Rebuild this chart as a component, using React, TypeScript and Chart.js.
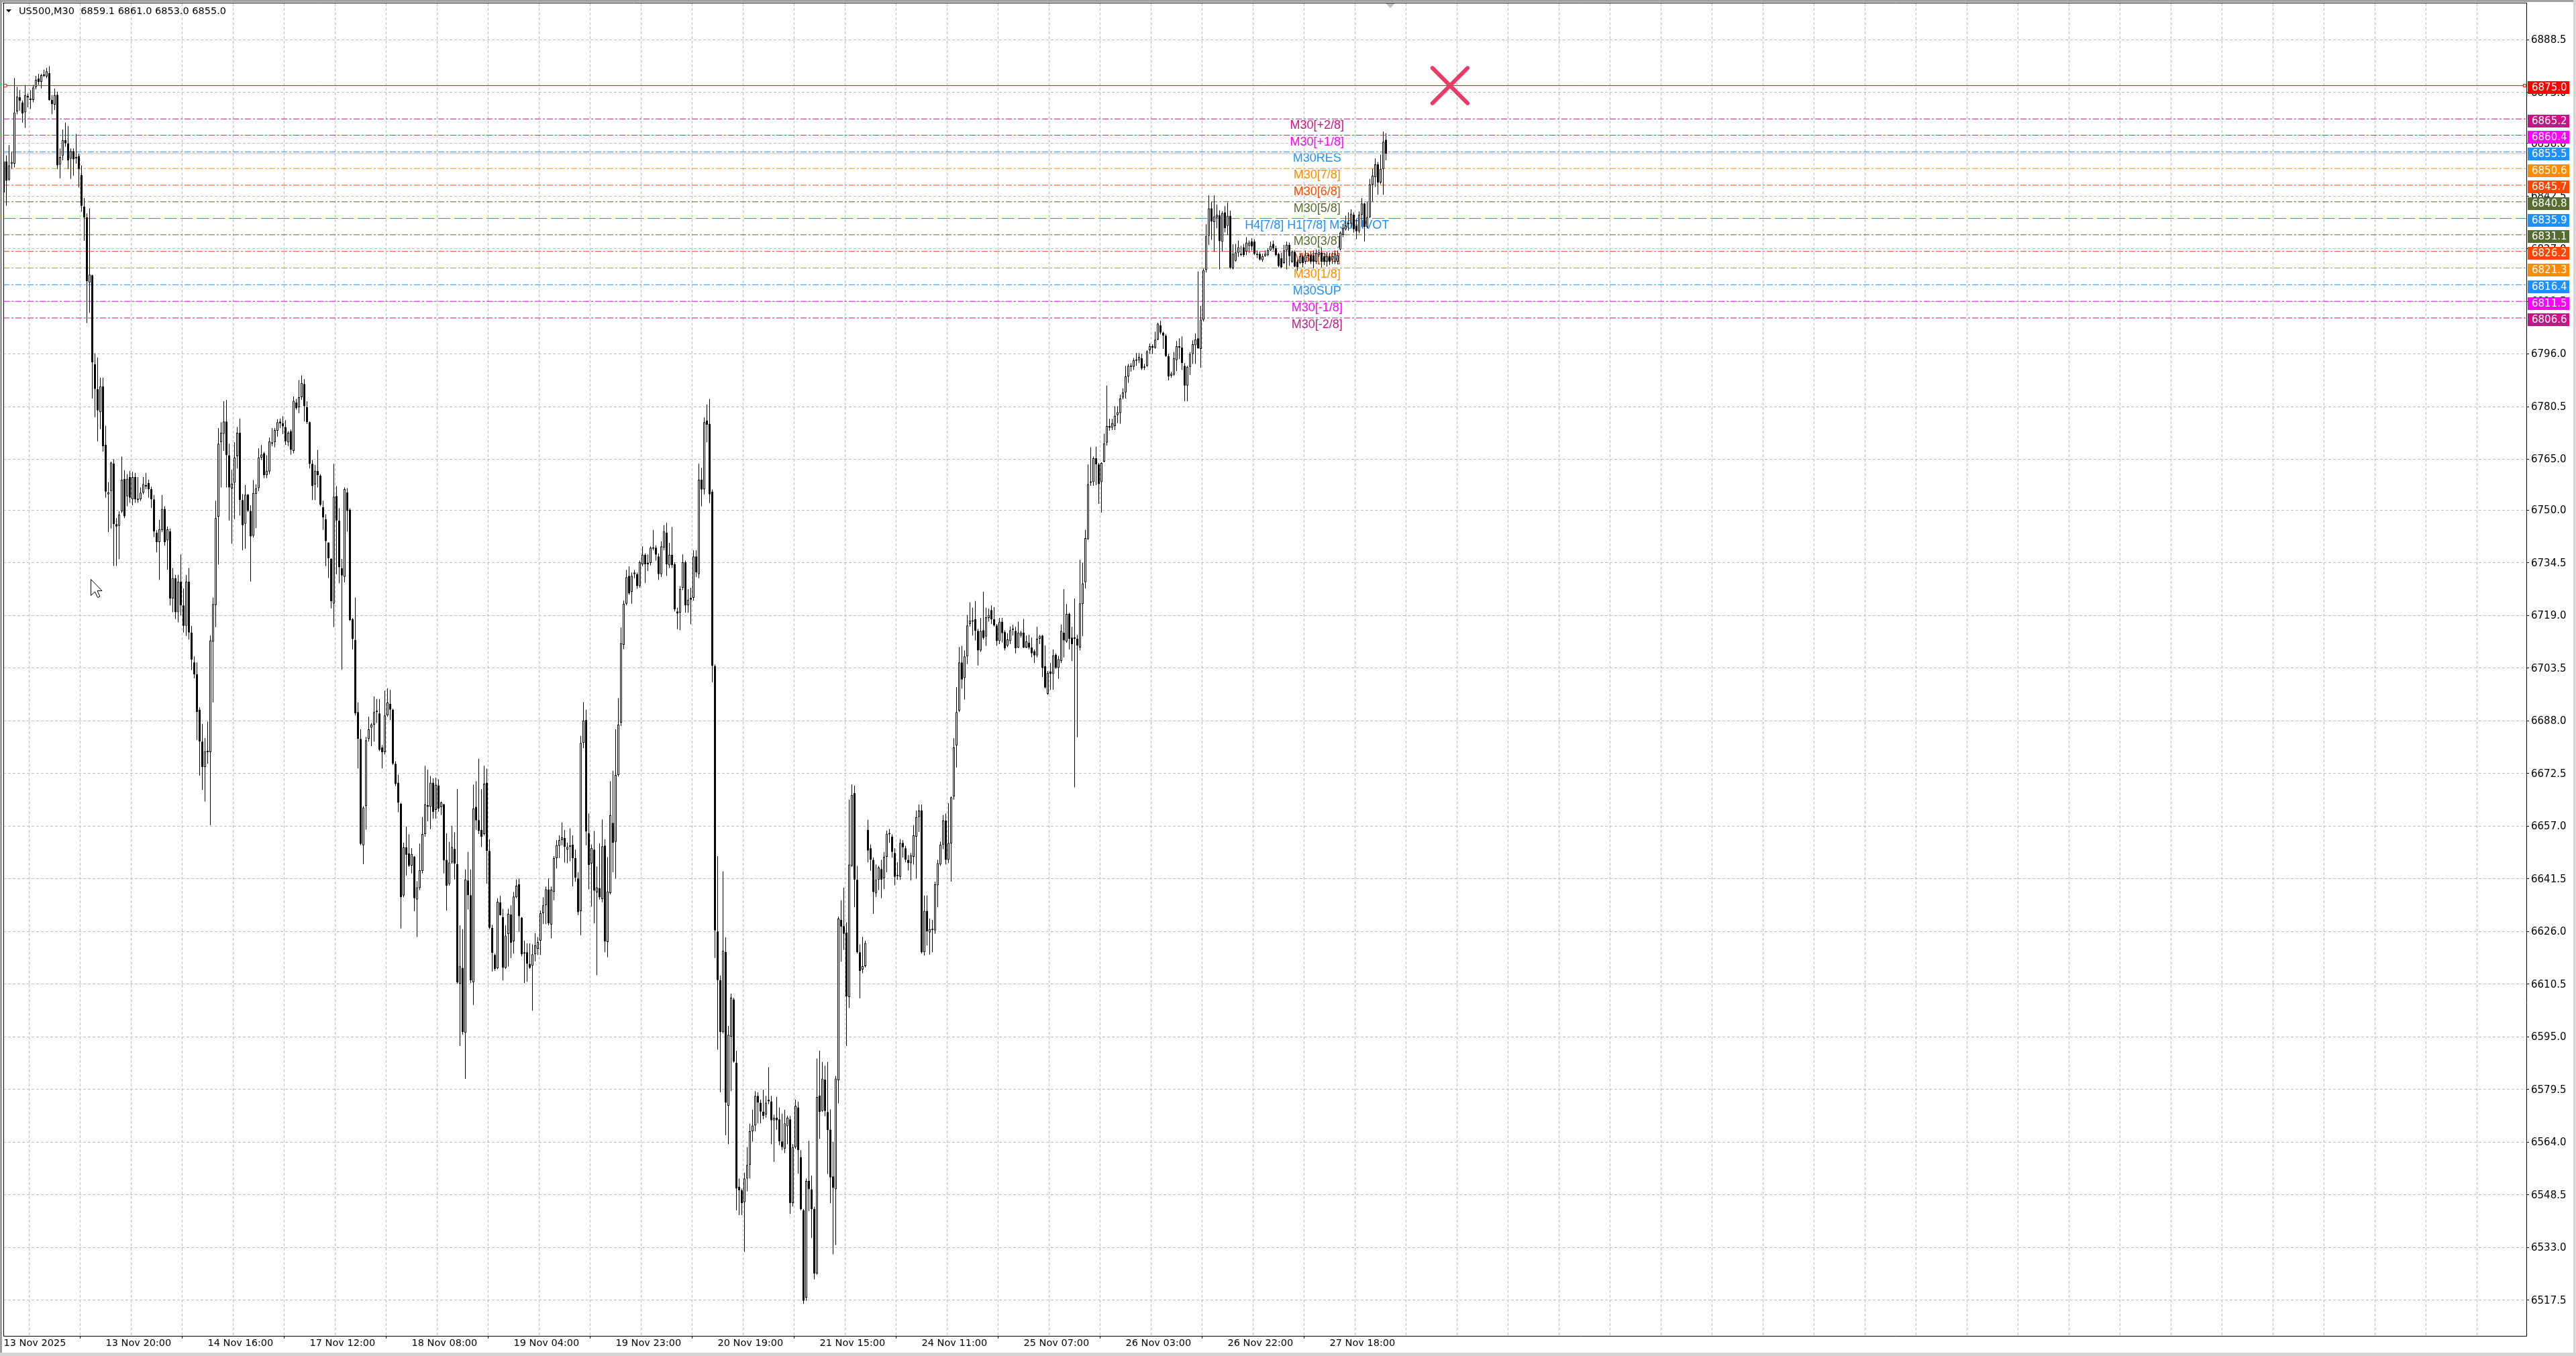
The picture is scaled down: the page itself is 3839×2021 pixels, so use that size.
import React, { useEffect, useRef } from 'react';
import { Chart, registerables } from 'chart.js';

Chart.register(...registerables);

// ---------- data ----------
const symbolTitle = 'US500,M30';
const lastQuote = [6859.1, 6861.0, 6853.0, 6855.0];

// M30 candles, [open, high, low, close]
const ohlc: number[][] = [
  [6843.5,6860.6,6842.4,6852.7],[6852.7,6854.5,6839.6,6847.0],[6847.3,6857.5,6847.0,6851.5],[6851.9,6855.5,6850.5,6852.5],
  [6852.0,6877.2,6851.0,6867.1],[6867.4,6874.7,6866.6,6871.8],[6871.6,6873.7,6867.6,6870.6],[6870.1,6870.6,6864.1,6866.8],
  [6867.1,6875.2,6862.6,6872.2],[6872.0,6872.7,6868.6,6871.5],[6871.1,6873.7,6868.1,6870.8],[6870.8,6875.2,6870.1,6874.5],
  [6874.5,6877.9,6873.9,6876.7],[6877.1,6878.5,6875.2,6876.1],[6876.1,6878.5,6874.2,6878.1],[6878.1,6879.7,6877.5,6877.9],
  [6877.7,6880.2,6877.2,6879.2],[6878.7,6880.7,6870.6,6870.8],[6870.8,6872.2,6866.6,6869.6],[6869.4,6874.2,6867.8,6872.2],
  [6872.3,6873.2,6850.5,6851.5],[6851.7,6856.5,6847.7,6854.0],[6854.3,6862.1,6853.0,6859.0],[6859.0,6864.1,6857.0,6858.0],
  [6858.0,6863.1,6850.5,6853.0],[6853.5,6856.5,6847.5,6855.7],[6855.7,6856.5,6848.5,6853.3],[6853.5,6860.8,6852.0,6854.0],
  [6854.3,6855.0,6845.0,6850.5],[6848.7,6851.5,6837.9,6839.6],[6839.4,6841.9,6829.3,6836.2],[6836.2,6837.4,6805.1,6817.4],
  [6817.0,6838.9,6808.1,6819.4],[6819.2,6819.4,6782.9,6793.5],[6793.0,6796.2,6777.4,6785.7],[6785.7,6795.0,6770.3,6779.4],
  [6778.9,6789.0,6773.9,6786.5],[6786.5,6789.0,6767.3,6768.8],[6769.3,6774.9,6753.7,6755.5],[6754.7,6758.3,6743.6,6755.3],
  [6755.7,6764.3,6744.6,6764.0],[6763.8,6765.0,6733.6,6745.9],[6745.9,6747.7,6733.6,6745.2],[6745.4,6749.7,6735.6,6748.7],
  [6749.7,6765.8,6749.2,6759.0],[6759.2,6761.8,6747.7,6748.2],[6754.1,6760.6,6751.2,6759.3],[6759.8,6761.6,6752.2,6753.7],
  [6753.2,6761.3,6751.5,6759.8],[6759.8,6761.0,6752.2,6753.2],[6753.4,6759.8,6752.2,6753.0],[6753.2,6756.7,6752.7,6755.2],
  [6755.2,6759.8,6754.7,6757.7],[6757.2,6761.0,6756.2,6757.0],[6758.0,6759.0,6753.7,6756.2],[6756.2,6756.9,6750.7,6753.2],
  [6753.2,6754.5,6742.1,6743.8],[6743.4,6744.1,6737.6,6740.6],[6740.6,6747.2,6729.5,6744.4],[6744.1,6754.5,6743.6,6750.4],
  [6750.4,6751.2,6739.6,6740.6],[6741.1,6745.2,6732.5,6744.4],[6743.8,6744.6,6722.0,6724.0],[6724.0,6733.0,6720.0,6730.0],
  [6730.0,6731.0,6718.0,6720.0],[6720.0,6731.0,6717.0,6729.0],[6729.0,6737.0,6719.0,6722.0],[6722.0,6727.0,6714.0,6716.0],
  [6716.0,6731.0,6713.0,6729.0],[6729.0,6733.0,6712.0,6714.0],[6714.0,6716.0,6703.0,6706.0],[6705.2,6707.0,6700.5,6701.7],
  [6701.7,6705.2,6682.3,6690.6],[6691.3,6692.0,6671.9,6681.9],[6681.9,6687.1,6667.7,6674.4],[6674.4,6683.0,6664.3,6679.1],
  [6678.8,6687.8,6675.4,6679.1],[6678.8,6713.1,6657.3,6711.7],[6711.3,6724.3,6693.4,6722.4],[6722.1,6752.8,6715.6,6747.7],
  [6748.1,6774.2,6734.0,6769.6],[6770.0,6775.9,6756.7,6772.8],[6772.5,6782.1,6767.5,6776.1],[6776.1,6782.5,6756.7,6766.2],
  [6766.2,6769.6,6747.0,6756.7],[6756.4,6762.0,6740.1,6757.8],[6758.1,6770.0,6747.4,6765.5],[6765.9,6774.5,6762.3,6772.8],
  [6772.8,6777.0,6748.4,6753.0],[6753.0,6754.8,6738.2,6745.6],[6746.0,6757.4,6738.7,6754.6],[6754.6,6754.8,6749.5,6749.8],
  [6749.8,6751.5,6729.0,6742.3],[6742.5,6758.9,6742.0,6755.1],[6754.8,6757.6,6744.7,6756.5],[6756.5,6768.2,6755.6,6765.5],
  [6765.5,6769.2,6764.8,6766.4],[6766.8,6767.2,6759.5,6760.3],[6760.3,6766.2,6759.5,6761.6],[6761.4,6771.4,6760.6,6770.3],
  [6769.6,6774.2,6768.9,6770.0],[6770.0,6774.2,6768.5,6773.6],[6773.4,6776.8,6771.7,6775.9],[6776.1,6777.0,6774.2,6775.6],
  [6775.6,6777.7,6772.4,6774.7],[6774.5,6776.5,6769.2,6770.3],[6770.0,6773.3,6768.9,6772.8],[6773.3,6773.8,6766.4,6767.8],
  [6767.5,6783.5,6766.8,6782.2],[6781.7,6782.8,6779.6,6780.0],[6780.3,6788.3,6778.6,6783.3],[6783.3,6789.7,6782.5,6787.5],
  [6787.2,6788.6,6776.1,6780.6],[6780.3,6782.1,6775.4,6775.9],[6775.9,6776.1,6762.3,6763.7],[6763.7,6764.8,6753.0,6757.1],
  [6757.6,6763.4,6753.0,6761.6],[6761.6,6767.8,6756.7,6760.3],[6760.2,6760.6,6751.2,6751.6],[6750.9,6752.8,6744.2,6747.9],
  [6747.4,6748.8,6733.6,6740.9],[6740.5,6740.5,6730.1,6735.9],[6735.7,6735.9,6721.1,6723.2],[6722.5,6763.7,6715.6,6754.0],
  [6754.2,6757.1,6731.2,6747.0],[6747.0,6750.6,6728.5,6733.2],[6732.9,6735.7,6703.1,6730.8],[6730.4,6756.7,6728.7,6756.2],
  [6755.3,6756.5,6743.7,6749.8],[6750.2,6750.6,6717.4,6717.6],[6717.9,6718.3,6709.0,6712.1],[6711.8,6724.3,6689.6,6690.2],
  [6690.6,6693.4,6674.0,6682.7],[6682.7,6685.5,6651.4,6651.8],[6651.4,6662.9,6645.8,6662.5],[6662.9,6683.3,6656.0,6682.3],
  [6682.7,6689.2,6681.9,6685.5],[6686.0,6687.4,6680.5,6686.9],[6686.9,6695.2,6681.9,6690.6],[6690.6,6694.4,6687.4,6690.8],
  [6690.2,6694.4,6679.1,6679.5],[6680.2,6680.9,6674.0,6678.8],[6678.8,6696.9,6678.1,6689.6],[6689.6,6697.6,6689.2,6693.4],
  [6693.0,6697.1,6688.3,6691.3],[6691.3,6691.6,6675.0,6675.4],[6675.4,6676.1,6668.8,6669.4],[6669.8,6672.2,6661.1,6663.9],
  [6663.6,6663.9,6626.9,6636.1],[6636.6,6652.2,6636.1,6650.8],[6650.8,6656.9,6642.5,6648.6],[6649.0,6654.6,6645.0,6645.3],
  [6645.4,6650.5,6643.1,6648.8],[6648.1,6648.2,6632.0,6635.8],[6635.4,6640.8,6624.4,6639.0],[6638.8,6651.9,6638.2,6644.1],
  [6643.8,6659.7,6643.1,6654.7],[6654.7,6674.8,6653.9,6663.5],[6663.2,6673.6,6658.4,6662.7],[6662.7,6671.8,6656.2,6669.8],
  [6669.8,6671.1,6659.2,6661.2],[6661.8,6671.3,6659.2,6669.2],[6669.0,6670.8,6661.2,6662.2],[6662.6,6664.3,6660.3,6664.0],
  [6663.5,6663.6,6643.1,6646.9],[6647.1,6654.9,6632.2,6639.5],[6640.0,6652.4,6639.5,6646.3],[6646.3,6657.1,6645.9,6650.9],
  [6650.3,6655.2,6641.3,6646.0],[6645.8,6668.0,6610.6,6611.0],[6610.6,6627.8,6592.3,6615.9],[6615.3,6626.7,6595.7,6596.4],
  [6596.2,6644.3,6582.6,6641.3],[6641.0,6649.4,6632.5,6636.7],[6636.7,6644.3,6610.8,6611.6],[6611.0,6669.2,6604.4,6662.2],
  [6662.7,6670.2,6655.9,6658.7],[6658.8,6676.8,6654.7,6655.6],[6655.9,6667.9,6650.9,6653.9],[6654.7,6674.8,6654.3,6669.5],
  [6669.8,6673.9,6640.1,6649.7],[6649.7,6653.1,6626.7,6627.1],[6627.1,6628.0,6614.2,6619.7],[6619.1,6619.5,6614.4,6615.0],
  [6615.2,6635.8,6614.9,6634.8],[6634.6,6636.5,6630.7,6630.8],[6630.2,6632.7,6611.6,6615.3],[6615.3,6627.8,6615.0,6624.8],
  [6625.2,6632.7,6615.7,6631.2],[6631.0,6633.7,6618.1,6622.7],[6623.1,6637.6,6619.5,6636.3],[6636.1,6641.3,6635.8,6639.5],
  [6639.9,6641.6,6625.9,6630.5],[6630.1,6630.2,6618.7,6619.3],[6619.9,6623.3,6610.8,6619.5],[6619.9,6622.5,6611.2,6616.5],
  [6616.5,6622.5,6615.0,6615.3],[6615.9,6622.2,6602.7,6619.3],[6619.3,6625.5,6617.2,6621.9],[6620.9,6624.4,6619.1,6622.9],
  [6623.3,6632.2,6619.1,6631.4],[6631.4,6636.1,6628.2,6633.7],[6633.7,6639.2,6628.2,6638.4],[6638.4,6641.6,6627.8,6628.4],
  [6628.0,6639.2,6624.0,6638.3],[6637.6,6648.2,6635.2,6647.6],[6647.6,6652.9,6644.6,6651.4],[6651.2,6654.3,6647.6,6652.9],
  [6652.9,6658.1,6651.4,6653.7],[6653.5,6655.9,6646.3,6650.9],[6650.1,6652.2,6646.1,6650.9],[6650.9,6656.4,6646.7,6651.4],
  [6651.6,6654.3,6639.3,6647.6],[6647.6,6650.1,6640.7,6641.8],[6641.6,6643.5,6630.8,6631.7],[6632.0,6683.6,6624.9,6681.5],
  [6681.5,6693.5,6680.0,6688.1],[6688.3,6691.3,6651.4,6655.4],[6654.9,6660.7,6638.4,6645.6],[6646.0,6651.6,6633.3,6650.6],
  [6650.1,6655.6,6628.4,6638.0],[6637.5,6645.1,6613.1,6639.0],[6638.8,6652.0,6635.4,6636.1],[6635.5,6659.0,6634.6,6651.1],
  [6651.3,6653.1,6619.9,6623.1],[6622.9,6647.9,6618.4,6637.8],[6637.3,6670.2,6636.9,6660.3],[6658.0,6673.3,6643.4,6652.1],
  [6652.4,6685.5,6641.6,6672.1],[6672.1,6694.7,6671.6,6686.9],[6687.5,6715.5,6686.5,6710.9],[6710.4,6723.4,6709.1,6722.5],
  [6722.5,6732.4,6722.0,6730.3],[6730.7,6733.5,6725.1,6725.5],[6726.0,6731.7,6722.5,6730.7],[6731.2,6732.4,6730.0,6731.7],
  [6731.2,6731.7,6726.9,6727.7],[6727.7,6735.2,6727.2,6734.7],[6734.1,6739.4,6733.5,6736.9],[6736.9,6737.3,6728.6,6734.1],
  [6734.5,6737.0,6732.1,6734.1],[6734.5,6739.4,6733.8,6739.0],[6739.0,6744.2,6738.2,6738.7],[6739.0,6739.7,6735.2,6736.9],
  [6736.4,6737.3,6729.5,6731.2],[6731.2,6740.8,6730.3,6739.4],[6739.0,6745.6,6738.2,6743.9],[6743.4,6746.3,6730.7,6734.1],
  [6733.8,6740.4,6733.0,6736.9],[6736.9,6745.1,6733.0,6733.8],[6734.1,6734.7,6720.2,6720.8],[6720.2,6721.3,6715.0,6719.6],
  [6719.9,6727.7,6714.7,6726.8],[6727.2,6737.0,6726.5,6734.7],[6734.7,6735.2,6719.9,6722.0],[6722.0,6726.8,6719.9,6723.7],
  [6724.2,6727.2,6716.4,6723.7],[6724.2,6738.2,6723.4,6736.4],[6736.4,6738.2,6730.3,6731.7],[6731.2,6763.7,6730.0,6759.0],
  [6759.0,6762.5,6751.2,6756.1],[6756.1,6777.3,6754.7,6775.9],[6776.4,6781.1,6770.0,6775.2],[6775.5,6782.8,6752.1,6754.7],
  [6755.5,6756.1,6699.4,6704.2],[6704.2,6704.6,6618.2,6626.3],[6626.0,6648.2,6591.2,6611.7],[6611.7,6613.0,6578.7,6596.4],
  [6596.4,6643.7,6596.0,6620.4],[6620.0,6624.3,6566.0,6575.6],[6574.7,6598.2,6563.4,6595.6],[6595.0,6607.7,6579.0,6606.5],
  [6606.0,6606.5,6587.4,6587.7],[6587.4,6590.9,6543.9,6550.3],[6550.9,6553.3,6542.5,6549.8],[6549.8,6550.3,6542.5,6546.0],
  [6546.3,6555.0,6531.7,6553.3],[6553.3,6562.5,6549.5,6557.3],[6557.3,6569.4,6553.3,6567.2],[6567.2,6573.5,6564.2,6568.9],
  [6568.9,6579.0,6567.2,6577.6],[6577.6,6578.7,6569.5,6575.6],[6575.6,6576.5,6569.5,6573.0],[6573.0,6579.4,6570.7,6571.7],
  [6572.1,6577.6,6571.2,6575.6],[6576.5,6586.0,6575.2,6576.0],[6576.0,6577.6,6563.4,6570.4],[6570.4,6572.1,6558.2,6571.2],
  [6571.2,6577.3,6567.7,6570.4],[6570.7,6574.2,6563.1,6564.2],[6564.2,6572.4,6561.6,6562.5],[6562.0,6573.5,6560.8,6569.5],
  [6568.7,6571.7,6563.4,6571.2],[6570.7,6571.7,6542.9,6546.0],[6546.0,6563.4,6545.1,6562.5],[6562.5,6576.5,6562.0,6574.7],
  [6574.2,6575.9,6554.7,6561.6],[6559.6,6561.6,6543.9,6544.3],[6543.9,6544.3,6516.4,6517.3],[6518.2,6553.3,6517.3,6552.6],
  [6552.6,6564.4,6543.7,6550.1],[6550.1,6554.1,6535.8,6544.3],[6544.3,6545.0,6523.6,6525.3],[6525.3,6588.6,6525.0,6577.3],
  [6577.7,6590.9,6565.0,6572.9],[6573.2,6587.6,6572.9,6582.7],[6582.4,6586.5,6571.6,6573.2],[6572.9,6587.6,6554.6,6567.5],
  [6567.7,6573.6,6546.0,6553.6],[6553.9,6564.1,6531.0,6550.5],[6550.1,6583.5,6533.7,6582.7],[6582.2,6630.4,6575.4,6629.8],
  [6629.4,6635.2,6617.1,6627.4],[6627.6,6638.9,6620.6,6625.3],[6625.7,6628.7,6592.3,6606.9],[6606.7,6664.8,6603.5,6645.7],
  [6645.3,6669.3,6645.0,6666.2],[6666.8,6668.9,6633.1,6641.2],[6641.2,6645.3,6619.5,6619.9],[6619.9,6622.2,6606.3,6614.4],
  [6614.8,6624.4,6613.7,6615.8],[6615.8,6623.3,6615.4,6622.6],[6655.9,6658.9,6646.4,6649.8],[6650.5,6651.6,6643.9,6647.1],
  [6647.1,6647.8,6631.2,6637.6],[6637.2,6645.7,6636.2,6641.2],[6641.2,6645.3,6638.2,6644.8],[6644.4,6647.1,6635.8,6641.2],
  [6641.6,6649.4,6638.5,6648.0],[6648.0,6655.7,6643.4,6654.8],[6654.8,6656.2,6652.1,6654.6],[6653.9,6654.6,6647.8,6649.4],
  [6649.1,6650.5,6639.6,6642.1],[6642.5,6646.4,6641.2,6642.3],[6642.1,6653.2,6641.2,6652.1],[6652.1,6652.9,6647.8,6650.8],
  [6650.5,6651.2,6646.4,6647.1],[6647.1,6648.5,6644.0,6646.1],[6646.1,6649.1,6641.0,6648.5],[6648.0,6657.3,6645.7,6654.3],
  [6653.9,6661.6,6641.6,6659.7],[6659.7,6663.4,6655.3,6661.6],[6661.6,6663.4,6619.5,6619.9],[6619.9,6636.6,6618.9,6632.1],
  [6632.1,6636.6,6621.9,6626.0],[6625.7,6629.8,6619.2,6626.7],[6626.7,6629.4,6619.9,6626.4],[6626.3,6640.7,6625.3,6639.9],
  [6639.6,6647.1,6633.1,6646.1],[6645.7,6652.5,6645.3,6651.6],[6651.6,6660.3,6650.2,6658.7],[6658.7,6660.7,6645.7,6647.1],
  [6647.1,6663.8,6646.1,6652.1],[6651.9,6665.7,6640.7,6665.5],[6665.7,6682.9,6664.8,6680.2],[6680.7,6697.9,6674.3,6690.6],
  [6691.0,6709.7,6690.6,6705.2],[6705.2,6710.1,6697.5,6700.2],[6700.6,6708.7,6694.3,6707.0],[6707.0,6719.2,6704.7,6716.1],
  [6716.5,6722.9,6715.8,6717.5],[6717.5,6721.3,6713.1,6717.2],[6717.9,6723.3,6711.7,6714.5],[6714.5,6715.1,6704.3,6708.7],
  [6708.7,6718.3,6708.3,6714.5],[6714.7,6726.0,6712.0,6712.4],[6712.8,6721.3,6710.1,6718.5],[6718.3,6721.0,6717.2,6719.2],
  [6720.6,6722.0,6716.5,6717.9],[6717.9,6721.5,6715.8,6716.1],[6716.1,6716.5,6710.1,6711.5],[6711.5,6718.3,6710.6,6717.2],
  [6717.2,6718.3,6711.1,6713.8],[6714.2,6714.7,6708.7,6709.3],[6710.1,6713.8,6709.7,6712.0],[6711.5,6715.8,6710.6,6714.7],
  [6714.8,6716.3,6713.1,6715.1],[6714.5,6715.7,6707.9,6709.4],[6709.6,6717.2,6709.4,6714.0],[6713.1,6714.5,6712.5,6714.0],
  [6714.0,6718.0,6709.4,6709.6],[6709.6,6713.1,6709.4,6711.4],[6711.0,6713.3,6709.0,6709.6],[6709.6,6712.5,6706.7,6707.9],
  [6708.5,6709.0,6705.0,6707.3],[6707.3,6715.7,6706.7,6712.2],[6712.2,6713.3,6710.6,6712.9],[6713.1,6713.3,6700.9,6703.6],
  [6704.1,6710.2,6697.5,6697.8],[6696.0,6702.7,6695.7,6702.1],[6702.5,6705.0,6697.1,6701.8],[6701.8,6709.0,6697.1,6707.3],
  [6707.5,6707.9,6703.3,6703.6],[6703.6,6707.1,6700.4,6706.2],[6705.6,6716.3,6705.0,6714.5],[6714.0,6726.8,6706.7,6711.7],
  [6711.4,6722.4,6711.0,6719.5],[6719.5,6719.8,6709.0,6712.2],[6712.5,6715.7,6705.6,6710.6],[6712.5,6724.1,6668.5,6712.2],
  [6712.2,6713.3,6683.2,6710.2],[6709.6,6735.4,6708.7,6722.6],[6722.4,6734.6,6712.9,6728.4],[6728.8,6744.2,6727.0,6741.8],
  [6741.5,6763.5,6741.2,6757.7],[6758.5,6768.5,6757.2,6758.1],[6758.3,6765.8,6757.2,6765.3],[6765.3,6768.7,6757.4,6763.5],
  [6763.5,6763.9,6751.9,6757.7],[6758.3,6764.1,6749.3,6763.9],[6764.3,6772.5,6764.1,6769.7],[6769.9,6786.7,6769.0,6774.8],
  [6774.8,6776.9,6773.4,6774.3],[6774.3,6776.9,6773.6,6775.7],[6774.8,6780.6,6773.6,6777.8],[6778.0,6780.6,6775.7,6778.9],
  [6778.6,6784.0,6775.5,6782.9],[6783.2,6785.9,6782.7,6784.7],[6784.7,6792.5,6782.9,6789.4],[6789.4,6793.1,6787.5,6792.5],
  [6792.5,6793.3,6790.8,6792.2],[6792.2,6794.8,6791.3,6794.2],[6794.2,6796.3,6792.5,6794.0],[6794.2,6796.3,6793.3,6795.2],
  [6794.8,6796.0,6791.3,6791.7],[6792.1,6793.1,6791.3,6791.9],[6792.5,6797.1,6792.2,6796.8],[6797.1,6799.1,6796.0,6798.3],
  [6798.3,6798.9,6796.0,6797.9],[6797.9,6802.6,6797.5,6800.2],[6800.2,6805.2,6800.0,6804.9],[6804.4,6805.8,6801.8,6802.3],
  [6802.3,6802.6,6797.5,6801.4],[6801.4,6801.8,6795.2,6795.4],[6795.4,6796.0,6788.2,6789.4],[6789.6,6790.8,6789.0,6790.2],
  [6789.9,6796.6,6789.6,6794.8],[6794.2,6799.8,6791.0,6798.3],[6797.9,6800.6,6794.5,6798.3],[6797.9,6801.2,6791.3,6793.3],
  [6792.5,6793.3,6782.1,6786.7],[6786.7,6792.5,6782.1,6792.2],[6792.2,6796.6,6789.8,6796.0],[6796.0,6800.0,6793.1,6798.9],
  [6798.6,6802.1,6793.1,6800.3],[6800.6,6820.3,6797.5,6797.7],[6797.5,6810.2,6791.9,6806.1],[6806.1,6821.1,6805.6,6820.7],
  [6820.7,6834.2,6820.0,6830.8],[6830.8,6842.7,6828.1,6838.9],[6838.9,6840.8,6829.6,6835.0],[6834.8,6842.7,6826.1,6836.5],
  [6836.2,6840.0,6833.0,6837.0],[6836.9,6838.3,6820.9,6829.2],[6829.0,6838.0,6826.1,6837.5],[6837.7,6839.5,6831.8,6833.0],
  [6833.7,6840.6,6831.1,6836.7],[6836.7,6838.2,6821.0,6821.4],[6821.2,6828.3,6820.9,6825.5],[6823.4,6828.4,6823.2,6825.9],
  [6825.8,6829.4,6824.6,6827.4],[6825.5,6827.8,6824.8,6825.1],[6827.4,6828.4,6824.6,6825.1],[6826.1,6830.4,6825.1,6828.8],
  [6827.8,6829.4,6825.8,6828.8],[6829.2,6830.1,6826.5,6827.6],[6829.1,6829.8,6825.1,6825.5],[6825.5,6826.5,6824.2,6825.1],
  [6825.5,6826.1,6823.5,6823.8],[6823.6,6825.5,6823.2,6824.8],[6824.8,6826.5,6824.6,6825.5],[6825.1,6827.1,6824.8,6826.6],
  [6826.5,6829.1,6826.3,6827.8],[6828.4,6829.4,6826.5,6827.1],[6827.2,6827.8,6824.8,6825.1],[6825.5,6825.8,6821.5,6821.9],
  [6824.2,6825.8,6821.3,6821.5],[6822.8,6828.1,6822.5,6826.5],[6826.5,6829.1,6820.9,6828.1],[6828.1,6828.8,6821.9,6824.8],
  [6823.2,6826.5,6822.8,6826.1],[6826.1,6826.5,6821.5,6821.7],[6823.2,6823.8,6820.5,6821.5],[6822.8,6825.8,6822.5,6824.8],
  [6824.8,6825.1,6821.5,6822.8],[6823.2,6826.5,6822.5,6825.1],[6825.1,6825.8,6823.2,6824.8],[6825.1,6826.1,6822.5,6823.2],
  [6825.1,6826.5,6821.2,6823.2],[6823.2,6826.8,6822.5,6825.8],[6825.1,6826.8,6824.6,6825.9],[6825.9,6827.4,6821.5,6823.2],
  [6824.8,6825.8,6822.2,6823.2],[6823.2,6826.1,6821.7,6824.8],[6824.8,6825.8,6822.2,6823.2],[6823.8,6825.9,6822.5,6824.8],
  [6823.2,6826.5,6822.5,6825.5],[6823.2,6826.5,6822.5,6825.1],[6826.8,6832.1,6826.5,6831.7],[6831.1,6834.0,6830.4,6833.0],
  [6832.7,6836.7,6832.3,6833.8],[6834.2,6837.7,6832.3,6834.4],[6834.4,6838.6,6833.0,6837.3],[6837.0,6837.7,6831.7,6832.7],
  [6833.7,6835.7,6829.8,6832.1],[6832.1,6838.0,6831.5,6837.0],[6837.0,6841.9,6833.4,6840.3],[6840.3,6840.5,6829.1,6833.4],
  [6833.4,6840.9,6833.0,6836.3],[6836.3,6847.5,6836.0,6845.9],[6845.9,6850.5,6840.9,6848.5],[6848.0,6853.6,6845.2,6851.8],
  [6851.8,6852.5,6842.9,6846.5],[6846.5,6854.7,6846.0,6850.5],[6850.5,6861.5,6842.9,6858.5],[6859.1,6861.0,6853.0,6855.0],
];

const timeLabels = [
  '13 Nov 2025', '13 Nov 20:00', '14 Nov 16:00', '17 Nov 12:00', '18 Nov 08:00', '19 Nov 04:00', '19 Nov 23:00',
  '20 Nov 19:00', '21 Nov 15:00', '24 Nov 11:00', '25 Nov 07:00', '26 Nov 03:00', '26 Nov 22:00', '27 Nov 18:00',
];
const barsPerGrid = 19; // a time label every second grid line

const yTicks = [
  6888.5, 6873.0, 6858.0, 6842.5, 6827.0, 6811.5, 6796.0, 6780.5, 6765.0, 6750.0, 6734.5, 6719.0, 6703.5,
  6688.0, 6672.5, 6657.0, 6641.5, 6626.0, 6610.5, 6595.0, 6579.5, 6564.0, 6548.5, 6533.0, 6517.5,
];

const levelPrices = [6865.2, 6860.4, 6855.5, 6850.6, 6845.7, 6840.8, 6835.9, 6831.1, 6826.2, 6821.3, 6816.4, 6811.5, 6806.6];
const levelNames = [
  'M30[+2/8]', 'M30[+1/8]', 'M30RES', 'M30[7/8]', 'M30[6/8]', 'M30[5/8]', 'H4[7/8] H1[7/8] M30PIVOT',
  'M30[3/8]', 'M30[2/8]', 'M30[1/8]', 'M30SUP', 'M30[-1/8]', 'M30[-2/8]',
];
const levelColors = [
  '#c71585', '#ff00ff', '#1e90ff', '#ff8c00', '#ff4500', '#556b2f', '#1e90ff',
  '#556b2f', '#ff4500', '#ff8c00', '#1e90ff', '#ff00ff', '#c71585',
];
const levelIsPivot = [false, false, false, false, false, false, true, false, false, false, false, false, false];

const alertPrice = 6875.0;
const bidPrice = 6855.0;
const markerBar = 538.85;
const markerPrice = 6875.0;
const levelTextBar = 489.3;
const shiftBar = 516.6;

// ---------- layout constants ----------
const W = 3839;
const H = 2021;
const X_MIN = -0.125;
const X_MAX = 939.875;
const Y_MIN = 6506.96;
const Y_MAX = 6899.22;

const AXIS_FONT = '"DejaVu Sans"';

export default function App() {
  const ref = useRef<HTMLCanvasElement | null>(null);

  useEffect(() => {
    document.body.style.margin = '0';
    document.body.style.overflow = 'hidden';
    const canvas = ref.current;
    if (!canvas) return;

    const wickData = ohlc.map((b, i) => ({ x: i, y: [b[2], b[1]] }));
    const bodyData = ohlc.map((b, i) => ({ x: i, y: [b[0], b[3]] }));
    const bodyColors = ohlc.map((b) => (b[3] >= b[0] ? '#ffffff' : '#000000'));

    const gridTicks: number[] = [];
    for (let v = 0; v <= X_MAX; v += barsPerGrid) gridTicks.push(v);

    const labelFor = (value: number) => {
      const k = Math.round(value / barsPerGrid);
      if (k % 2 !== 0) return '';
      const j = k / 2;
      return j < timeLabels.length ? timeLabels[j] : '';
    };

    const levelDatasets = levelPrices.map((p, k) => ({
      type: 'line',
      label: levelNames[k],
      data: [{ x: X_MIN, y: p }, { x: X_MAX, y: p }],
      borderColor: levelColors[k],
      borderWidth: 1,
      borderDash: levelIsPivot[k] ? [18, 6] : [9, 3, 3, 3],
      pointRadius: 0,
      order: 10,
    }));

    const frame = {
      id: 'mtFrame',
      beforeDraw(chart: any) {
        const { ctx } = chart;
        ctx.save();
        ctx.fillStyle = '#ffffff';
        ctx.fillRect(0, 0, W, H);
        ctx.restore();
      },
      beforeDatasetsDraw(chart: any) {
        const { ctx, scales } = chart;
        const x = scales.x;
        const y = scales.y;
        ctx.save();
        ctx.font = '18px "Liberation Sans"';
        ctx.textAlign = 'center';
        ctx.textBaseline = 'top';
        const cx = x.getPixelForValue(levelTextBar);
        levelPrices.forEach((p, k) => {
          ctx.fillStyle = levelColors[k];
          ctx.fillText(levelNames[k], cx, y.getPixelForValue(p) + 1);
        });
        ctx.restore();
      },
      beforeDatasetDraw(chart: any, args: any) {
        if (chart.data.datasets[args.index].label === 'marker') {
          chart.ctx.save();
          chart.ctx.lineCap = 'round';
        }
      },
      afterDatasetDraw(chart: any, args: any) {
        if (chart.data.datasets[args.index].label === 'marker') chart.ctx.restore();
      },
      afterDraw(chart: any) {
        const { ctx, scales, chartArea } = chart;
        const x = scales.x;
        const y = scales.y;
        ctx.save();
        // window frame
        ctx.fillStyle = '#a0a0a0';
        ctx.fillRect(0, 0, W, 3);
        ctx.fillRect(0, 0, 3, H);
        ctx.fillStyle = '#d6d6d6';
        ctx.fillRect(W - 4, 0, 4, H);
        ctx.fillRect(0, H - 5, W, 5);
        ctx.strokeStyle = '#000';
        ctx.lineWidth = 1;
        ctx.beginPath();
        ctx.moveTo(4, 4.5);
        ctx.lineTo(chartArea.right + 1, 4.5);
        ctx.moveTo(5.5, 4);
        ctx.lineTo(5.5, chartArea.bottom);
        ctx.stroke();

        // chart shift marker
        const sx = x.getPixelForValue(shiftBar);
        ctx.fillStyle = '#c0c0c0';
        ctx.beginPath();
        ctx.moveTo(sx - 7, 5);
        ctx.lineTo(sx + 7, 5);
        ctx.lineTo(sx, 12);
        ctx.closePath();
        ctx.fill();

        // header
        ctx.fillStyle = '#000';
        ctx.beginPath();
        ctx.moveTo(9, 14);
        ctx.lineTo(17, 14);
        ctx.lineTo(13, 18.5);
        ctx.closePath();
        ctx.fill();
        ctx.font = '14.5px ' + AXIS_FONT;
        ctx.textAlign = 'left';
        ctx.textBaseline = 'middle';
        ctx.fillText(symbolTitle + '  ' + lastQuote.map((v) => v.toFixed(1)).join(' '), 28, 17.5);

        // mouse cursor
        const cx0 = 135, cy0 = 863;
        const pts = [[0, 0], [0, 24], [6, 18.5], [10, 27], [13.5, 25.5], [9.5, 17], [16.5, 17]];
        ctx.beginPath();
        pts.forEach((p, i) => (i ? ctx.lineTo(cx0 + p[0] + 0.5, cy0 + p[1] + 0.5) : ctx.moveTo(cx0 + p[0] + 0.5, cy0 + p[1] + 0.5)));
        ctx.closePath();
        ctx.fillStyle = '#fff';
        ctx.fill();
        ctx.strokeStyle = '#000';
        ctx.stroke();

        // price boxes on the axis
        const boxes = [{ p: alertPrice, c: '#ff0000' }].concat(levelPrices.map((p, k) => ({ p, c: levelColors[k] })));
        ctx.font = '15px ' + AXIS_FONT;
        ctx.textBaseline = 'middle';
        boxes.forEach((b) => {
          const cy = y.getPixelForValue(b.p) + 3;
          ctx.fillStyle = b.c;
          ctx.fillRect(chartArea.right + 2, Math.round(cy - 9.5), 62, 19);
          ctx.fillStyle = '#ffffff';
          ctx.fillText(b.p.toFixed(1), chartArea.right + 8, cy + 0.5);
        });
        ctx.restore();
      },
    };

    const chart = new Chart(canvas, {
      type: 'bar',
      data: {
        datasets: [
          ...levelDatasets,
          {
            type: 'line',
            label: 'bid',
            data: [{ x: X_MIN, y: bidPrice }, { x: X_MAX, y: bidPrice }],
            borderColor: '#c0c0c0',
            borderWidth: 1,
            pointRadius: 0,
            order: 9,
          },
          {
            type: 'line',
            label: 'alert',
            data: [{ x: 0.58, y: alertPrice }, { x: 939.25, y: alertPrice }],
            borderColor: '#ff0000',
            borderWidth: 1,
            pointStyle: 'rect',
            pointRadius: 3,
            pointBorderWidth: 1,
            pointBorderColor: '#ff0000',
            pointBackgroundColor: '#ffffff',
            order: 8,
          },
          {
            type: 'bar',
            label: 'wicks',
            data: wickData,
            backgroundColor: '#000000',
            borderWidth: 0,
            barThickness: 1,
            grouped: false,
            inflateAmount: 0,
            order: 2,
          },
          {
            type: 'bar',
            label: 'bodies',
            data: bodyData,
            backgroundColor: bodyColors,
            borderColor: '#000000',
            borderWidth: 1,
            borderSkipped: false,
            barThickness: 3,
            minBarLength: 2,
            grouped: false,
            inflateAmount: 0,
            order: 1,
          },
          {
            type: 'scatter',
            label: 'marker',
            data: [{ x: markerBar, y: markerPrice }],
            pointStyle: 'crossRot',
            pointRadius: 37,
            pointBorderWidth: 6,
            pointBorderColor: '#ea3b68',
            pointBackgroundColor: '#ea3b68',
            order: 0,
          },
        ] as any,
      },
      options: {
        responsive: false,
        maintainAspectRatio: false,
        devicePixelRatio: 1,
        animation: false,
        events: [],
        layout: { autoPadding: false, padding: { left: 5, top: 5, right: 0, bottom: 0 } },
        plugins: { legend: { display: false }, tooltip: { enabled: false } },
        scales: {
          x: {
            type: 'linear',
            min: X_MIN,
            max: X_MAX,
            offset: false,
            position: 'bottom',
            afterBuildTicks: (scale: any) => {
              scale.ticks = gridTicks.map((v) => ({ value: v }));
            },
            afterFit: (scale: any) => {
              scale.height = 30;
              scale.paddingLeft = 0;
              scale.paddingRight = 0;
            },
            ticks: {
              autoSkip: false,
              maxRotation: 0,
              minRotation: 0,
              align: 'start',
              padding: 0,
              color: '#000',
              font: { family: AXIS_FONT, size: 14.5, lineHeight: 1 },
              callback: (v: any) => labelFor(Number(v)),
            },
            grid: {
              color: '#c0c0c0',
              lineWidth: 1,
              drawTicks: true,
              tickLength: 4,
              tickColor: (c: any) => (c.tick && labelFor(c.tick.value) !== '' ? '#000' : 'rgba(0,0,0,0)'),
            },
            border: { display: true, color: '#000', width: 1, dash: [4, 3] },
          },
          y: {
            type: 'linear',
            position: 'right',
            min: Y_MIN,
            max: Y_MAX,
            afterBuildTicks: (scale: any) => {
              scale.ticks = yTicks.slice().sort((a, b) => a - b).map((v) => ({ value: v }));
            },
            afterFit: (scale: any) => {
              scale.width = 74;
              scale.paddingTop = 0;
              scale.paddingBottom = 0;
            },
            ticks: {
              padding: 3,
              crossAlign: 'near',
              labelOffset: 1,
              color: '#000',
              font: { family: AXIS_FONT, size: 15 },
              callback: (v: any) => Number(v).toFixed(1),
            },
            grid: {
              color: '#c0c0c0',
              lineWidth: 1,
              tickLength: 4,
              tickColor: '#000',
            },
            border: { display: true, color: '#000', width: 1, dash: [4, 3] },
          },
        },
      } as any,
      plugins: [frame as any],
    });

    return () => chart.destroy();
  }, []);

  return (
    <div style={{ width: W, height: H, position: 'relative', overflow: 'hidden', background: '#fff' }}>
      <canvas ref={ref} width={W} height={H} style={{ display: 'block', width: W, height: H }} />
    </div>
  );
}
